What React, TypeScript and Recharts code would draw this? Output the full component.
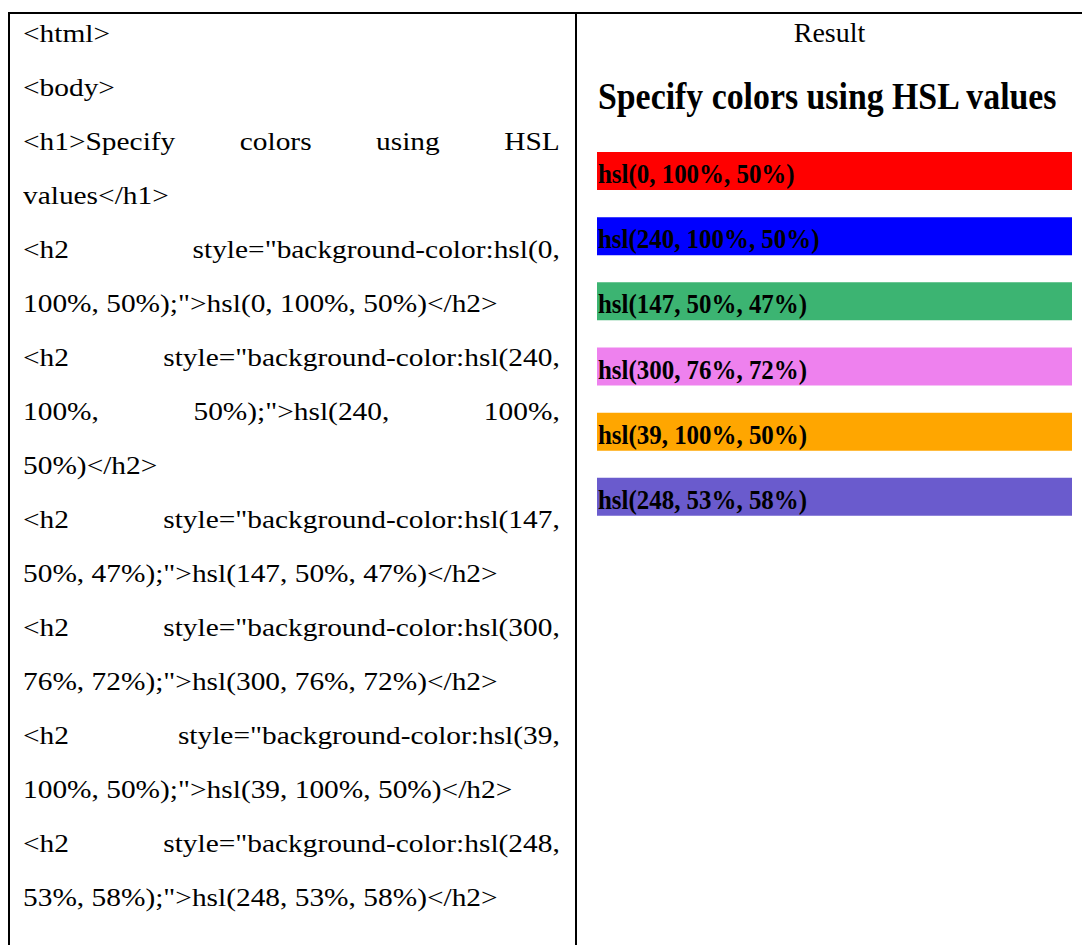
import { BarChart, Bar, XAxis, YAxis, Cell, LabelList } from 'recharts';

// colours shown on the right, one h2 each
const swatchLabels = [
  'hsl(0, 100%, 50%)',
  'hsl(240, 100%, 50%)',
  'hsl(147, 50%, 47%)',
  'hsl(300, 76%, 72%)',
  'hsl(39, 100%, 50%)',
  'hsl(248, 53%, 58%)',
];
const swatchFills = [
  'hsl(0, 100%, 50%)',
  'hsl(240, 100%, 50%)',
  'hsl(147, 50%, 47%)',
  'hsl(300, 76%, 72%)',
  'hsl(39, 100%, 50%)',
  'hsl(248, 53%, 58%)',
];
// every h2 spans the full width of its block
const swatchWidths = [100, 100, 100, 100, 100, 100];

const codeLines = [
  '<html>',
  '<body>',
  '<h1>Specify colors using HSL',
  'values</h1>',
  '<h2 style="background-color:hsl(0,',
  '100%, 50%);">hsl(0, 100%, 50%)</h2>',
  '<h2 style="background-color:hsl(240,',
  '100%, 50%);">hsl(240, 100%,',
  '50%)</h2>',
  '<h2 style="background-color:hsl(147,',
  '50%, 47%);">hsl(147, 50%, 47%)</h2>',
  '<h2 style="background-color:hsl(300,',
  '76%, 72%);">hsl(300, 76%, 72%)</h2>',
  '<h2 style="background-color:hsl(39,',
  '100%, 50%);">hsl(39, 100%, 50%)</h2>',
  '<h2 style="background-color:hsl(248,',
  '53%, 58%);">hsl(248, 53%, 58%)</h2>',
];
const justifiedLines = [2, 4, 6, 7, 9, 11, 13, 15];

const SERIF = '"Liberation Serif", "Times New Roman", serif';

const data = swatchLabels.map((name, i) => ({
  name,
  value: swatchWidths[i],
}));

// bold, slightly condensed label sitting on each bar
const SwatchLabel = (props: any) => {
  const { x, y, value } = props;
  return (
    <text
      transform={`translate(${x + 1},${y + 31}) scale(0.89,1)`}
      fontFamily={SERIF}
      fontWeight="bold"
      fontSize={28}
      fill="#000"
    >
      {value}
    </text>
  );
};

export default function App() {
  return (
    <div
      style={{
        position: 'absolute',
        left: 0,
        top: 0,
        width: 1082,
        height: 945,
        background: '#fff',
        overflow: 'hidden',
        fontFamily: SERIF,
        color: '#000',
      }}
    >
      {/* table lines */}
      <div style={{ position: 'absolute', left: 8, top: 12, width: 1074, height: 2, background: '#000' }} />
      <div style={{ position: 'absolute', left: 8, top: 12, width: 2, height: 933, background: '#000' }} />
      <div style={{ position: 'absolute', left: 575, top: 12, width: 2, height: 933, background: '#000' }} />

      {codeLines.map((line, i) => (
        <div
          key={i}
          style={{
            position: 'absolute',
            left: 23,
            top: 7 + i * 54,
            width: 475,
            fontSize: 26,
            lineHeight: '54px',
            textAlign: 'justify',
            textAlignLast: justifiedLines.includes(i) ? 'justify' : 'left',
            transform: 'scaleX(1.13)',
            transformOrigin: 'left top',
          }}
        >
          {line}
        </div>
      ))}

      <div
        style={{
          position: 'absolute',
          left: 577,
          top: 11,
          width: 505,
          textAlign: 'center',
          fontSize: 28,
          lineHeight: '44px',
        }}
      >
        Result
      </div>
      <div
        style={{
          position: 'absolute',
          left: 598,
          top: 68,
          fontSize: 38,
          fontWeight: 'bold',
          lineHeight: '56px',
          whiteSpace: 'nowrap',
          transform: 'scaleX(0.89)',
          transformOrigin: 'left top',
        }}
      >
        Specify colors using HSL values
      </div>

      <div style={{ position: 'absolute', left: 597, top: 138 }}>
        <BarChart
          width={475}
          height={391}
          data={data}
          layout="vertical"
          margin={{ top: 0, right: 0, bottom: 0, left: 0 }}
        >
          <XAxis type="number" domain={[0, 100]} hide />
          <YAxis type="category" dataKey="name" hide />
          <Bar dataKey="value" barSize={38} isAnimationActive={false}>
            {data.map((_, i) => (
              <Cell key={`cell-${i}`} fill={swatchFills[i]} />
            ))}
            <LabelList dataKey="name" content={SwatchLabel} />
          </Bar>
        </BarChart>
      </div>
    </div>
  );
}
